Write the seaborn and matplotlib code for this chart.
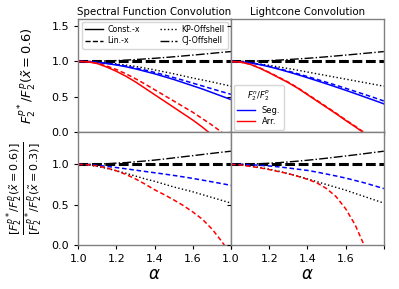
import numpy as np
import pandas as pd
import matplotlib
matplotlib.use("Agg")
import matplotlib.pyplot as plt
import seaborn as sns
from matplotlib.lines import Line2D

# alpha grid
alpha = [1.0, 1.05, 1.1, 1.15, 1.2, 1.25, 1.3, 1.35, 1.4, 1.45, 1.5,
         1.55, 1.6, 1.65, 1.7, 1.75, 1.8]

# top-left: spectral function convolution
tl_seg_const = [1.0, 0.997, 0.985, 0.97, 0.95, 0.925, 0.895, 0.86, 0.825, 0.785, 0.745, 0.70, 0.655, 0.61, 0.56, 0.51, 0.46]
tl_seg_lin = [1.0, 0.998, 0.988, 0.975, 0.957, 0.935, 0.908, 0.878, 0.845, 0.81, 0.772, 0.733, 0.693, 0.653, 0.613, 0.573, 0.535]
tl_arr_const = [1.0, 0.995, 0.97, 0.92, 0.86, 0.79, 0.71, 0.62, 0.53, 0.44, 0.35, 0.26, 0.17, 0.07, -0.04, -0.15, -0.27]
tl_arr_lin = [1.0, 0.995, 0.975, 0.935, 0.885, 0.825, 0.755, 0.68, 0.60, 0.52, 0.44, 0.36, 0.28, 0.19, 0.10, 0.0, -0.10]
tl_kp = [1.0, 0.997, 0.99, 0.98, 0.965, 0.948, 0.93, 0.906, 0.88, 0.853, 0.825, 0.795, 0.765, 0.738, 0.71, 0.68, 0.65]
tl_cj = [1.0, 1.001, 1.003, 1.007, 1.012, 1.019, 1.027, 1.036, 1.045, 1.055, 1.066, 1.078, 1.09, 1.102, 1.115, 1.128, 1.14]

# top-right: lightcone convolution
tr_seg_const = [1.0, 0.995, 0.98, 0.955, 0.925, 0.89, 0.852, 0.812, 0.77, 0.727, 0.683, 0.638, 0.592, 0.545, 0.497, 0.449, 0.40]
tr_seg_lin = [1.0, 0.996, 0.983, 0.96, 0.932, 0.899, 0.863, 0.825, 0.786, 0.746, 0.705, 0.663, 0.62, 0.576, 0.532, 0.487, 0.44]
tr_arr_const = [1.0, 0.99, 0.96, 0.905, 0.84, 0.77, 0.70, 0.62, 0.53, 0.44, 0.35, 0.26, 0.165, 0.075, -0.02, -0.11, -0.2]
tr_arr_lin = [1.0, 0.99, 0.962, 0.909, 0.845, 0.776, 0.706, 0.627, 0.537, 0.448, 0.358, 0.268, 0.173, 0.083, -0.012, -0.10, -0.19]
tr_kp = [1.0, 0.993, 0.98, 0.963, 0.945, 0.922, 0.9, 0.876, 0.85, 0.825, 0.8, 0.775, 0.75, 0.725, 0.70, 0.675, 0.65]
tr_cj = [1.0, 1.001, 1.003, 1.007, 1.012, 1.019, 1.027, 1.036, 1.045, 1.055, 1.066, 1.078, 1.09, 1.102, 1.115, 1.127, 1.14]

# bottom-left: ratio, spectral function
bl_seg_lin = [1.0, 0.997, 0.988, 0.975, 0.96, 0.945, 0.928, 0.912, 0.896, 0.88, 0.863, 0.845, 0.826, 0.805, 0.784, 0.762, 0.74]
bl_arr_lin = [1.0, 0.995, 0.98, 0.955, 0.92, 0.875, 0.82, 0.755, 0.685, 0.625, 0.56, 0.49, 0.41, 0.32, 0.20, 0.05, -0.12]
bl_kp = [1.0, 0.993, 0.975, 0.95, 0.92, 0.89, 0.855, 0.82, 0.79, 0.755, 0.72, 0.69, 0.66, 0.625, 0.59, 0.555, 0.52]
bl_cj = [1.0, 1.001, 1.004, 1.008, 1.015, 1.022, 1.032, 1.042, 1.053, 1.066, 1.08, 1.094, 1.108, 1.122, 1.136, 1.15, 1.163]

# bottom-right: ratio, lightcone
br_seg_lin = [1.0, 0.999, 0.995, 0.989, 0.98, 0.969, 0.955, 0.94, 0.925, 0.904, 0.88, 0.856, 0.83, 0.80, 0.77, 0.735, 0.70]
br_arr_lin = [1.0, 0.992, 0.975, 0.958, 0.935, 0.91, 0.885, 0.852, 0.815, 0.77, 0.70, 0.60, 0.45, 0.25, -0.02, -0.3, -0.6]
br_kp = [1.0, 0.993, 0.98, 0.962, 0.94, 0.915, 0.885, 0.855, 0.82, 0.785, 0.75, 0.715, 0.68, 0.64, 0.60, 0.56, 0.52]
br_cj = [1.0, 1.001, 1.004, 1.008, 1.014, 1.021, 1.03, 1.04, 1.051, 1.063, 1.076, 1.09, 1.104, 1.118, 1.133, 1.148, 1.163]

titles = ["Spectral Function Convolution", "Lightcone Convolution"]

fig, axes = plt.subplots(2, 2, figsize=(3.99, 2.89), dpi=100, sharex=True, sharey="row")
fig.subplots_adjust(left=0.196, right=0.962, bottom=0.152, top=0.934, hspace=0, wspace=0)


def draw(ax, kp, cj, lines):
    sns.lineplot(x=alpha, y=cj, ax=ax, color="k", lw=1.0, linestyle="-.")
    sns.lineplot(x=alpha, y=kp, ax=ax, color="k", lw=1.0, linestyle=":")
    ax.axhline(1.0, color="k", lw=2.2, dashes=(3.2, 1.2))
    for vals, col, ls in lines:
        style = (0, (3, 1.8)) if ls == "--" else "-"
        sns.lineplot(x=alpha, y=vals, ax=ax, color=col, lw=1.1, linestyle=style)


draw(axes[0, 0], tl_kp, tl_cj, [(tl_seg_const, "blue", "-"), (tl_seg_lin, "blue", "--"),
                                (tl_arr_const, "red", "-"), (tl_arr_lin, "red", "--")])
draw(axes[0, 1], tr_kp, tr_cj, [(tr_seg_const, "blue", "-"), (tr_seg_lin, "blue", "--"),
                                (tr_arr_const, "red", "-"), (tr_arr_lin, "red", "--")])
draw(axes[1, 0], bl_kp, bl_cj, [(bl_seg_lin, "blue", "--"), (bl_arr_lin, "red", "--")])
draw(axes[1, 1], br_kp, br_cj, [(br_seg_lin, "blue", "--"), (br_arr_lin, "red", "--")])

for ax in axes.flat:
    ax.set_xlim(1.0, 1.8)
    for sp in ax.spines.values():
        sp.set_color("0.5")
        sp.set_linewidth(1.0)
    ax.tick_params(labelsize=8, length=3, width=0.8)
    ax.set_ylabel("")
axes[0, 0].set_ylim(0, 1.6)
axes[1, 0].set_ylim(0, 1.4)
axes[0, 0].set_yticks([0.0, 0.5, 1.0, 1.5])
axes[1, 0].set_yticks([0.0, 0.5, 1.0])
axes[1, 1].set_xticks([1.0, 1.2, 1.4, 1.6, 1.8])
axes[1, 0].set_xticklabels(["1.0", "1.2", "1.4", "1.6", ""])

for j in range(2):
    axes[0, j].set_title(titles[j], fontsize=7.4, pad=3)
    axes[1, j].set_xlabel(r"$\alpha$", fontsize=12, labelpad=1)

axes[0, 0].set_ylabel(r"$F_2^{p*}/F_2^p(\tilde{x}=0.6)$", fontsize=9.4)
axes[0, 0].yaxis.set_label_coords(-0.262, 0.5)
axes[1, 0].set_ylabel(r"$\frac{[F_2^{p*}/F_2^p(\tilde{x}=0.6)]}{[F_2^{p*}/F_2^p(\tilde{x}=0.3)]}$", fontsize=11.5)
axes[1, 0].yaxis.set_label_coords(-0.217, 0.5)

h1 = [Line2D([], [], color="k", lw=1, ls="-"), Line2D([], [], color="k", lw=1, ls="--"),
      Line2D([], [], color="k", lw=1, ls=":"), Line2D([], [], color="k", lw=1, ls="-.")]
axes[0, 0].legend(h1, ["Const.-x", "Lin.-x", "KP-Offshell", "CJ-Offshell"], ncol=2,
                  loc="upper left", mode="expand", bbox_to_anchor=(0.025, 0.975, 0.955, 0.0),
                  fontsize=5.7, borderaxespad=0.0, handlelength=2.2, handletextpad=0.6,
                  labelspacing=0.3)
h2 = [Line2D([], [], color="blue", lw=1), Line2D([], [], color="red", lw=1)]
axes[0, 1].legend(h2, ["Seg.", "Arr."], title=r"$F_2^n/F_2^p$", loc="lower left",
                  fontsize=6, title_fontsize=6, borderaxespad=0.3, handlelength=2.2,
                  labelspacing=0.3)

fig.savefig("out.png", dpi=100)
